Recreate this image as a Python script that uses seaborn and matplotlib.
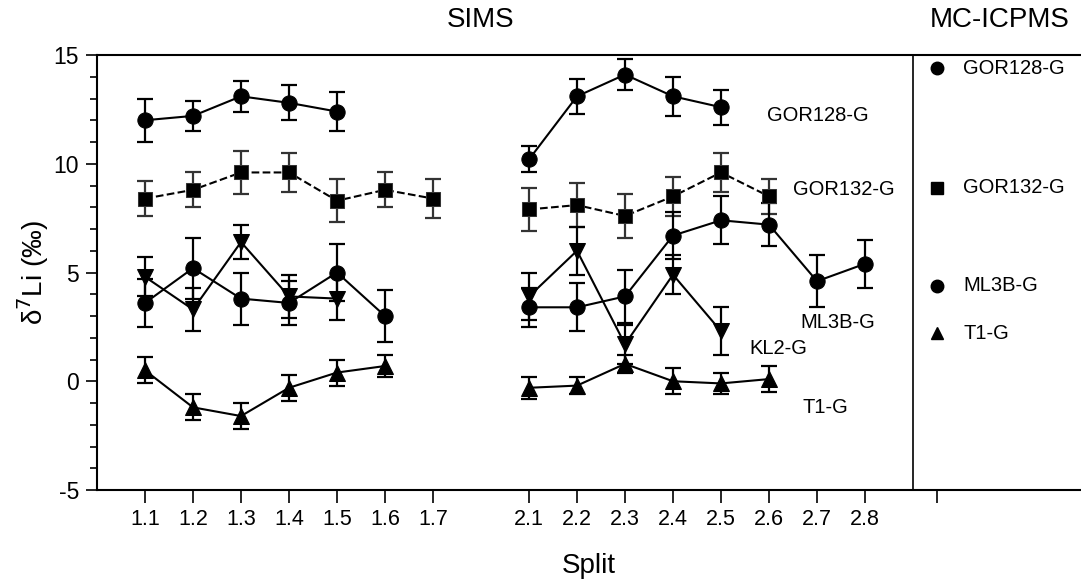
import numpy as np
import pandas as pd
import seaborn as sns
import matplotlib.pyplot as plt
import matplotlib.transforms as mtransforms

# split labels for the two SIMS sessions
splits1 = ['1.1', '1.2', '1.3', '1.4', '1.5', '1.6', '1.7']
splits2 = ['2.1', '2.2', '2.3', '2.4', '2.5', '2.6', '2.7', '2.8']

# session 1 values (d7Li, permil) and 2sd
gor128_1 = [12.0, 12.2, 13.1, 12.8, 12.4]
gor128_1_err = [1.0, 0.7, 0.7, 0.8, 0.9]
gor132_1 = [8.4, 8.8, 9.6, 9.6, 8.3, 8.8, 8.4]
gor132_1_err = [0.8, 0.8, 1.0, 0.9, 1.0, 0.8, 0.9]
ml3b_1 = [3.6, 5.2, 3.8, 3.6, 5.0, 3.0]
ml3b_1_err = [1.1, 1.4, 1.2, 1.0, 1.3, 1.2]
kl2_1 = [4.8, 3.3, 6.4, 3.9, 3.8]
kl2_1_err = [0.9, 1.0, 0.8, 1.0, 1.0]
t1_1 = [0.5, -1.2, -1.6, -0.3, 0.4, 0.7]
t1_1_err = [0.6, 0.6, 0.6, 0.6, 0.6, 0.5]

# session 2
gor128_2 = [10.2, 13.1, 14.1, 13.1, 12.6]
gor128_2_err = [0.6, 0.8, 0.7, 0.9, 0.8]
gor132_2 = [7.9, 8.1, 7.6, 8.5, 9.6, 8.5]
gor132_2_err = [1.0, 1.0, 1.0, 0.9, 0.9, 0.8]
ml3b_2 = [3.4, 3.4, 3.9, 6.7, 7.4, 7.2, 4.6, 5.4]
ml3b_2_err = [0.9, 1.1, 1.2, 1.1, 1.1, 1.0, 1.2, 1.1]
kl2_2 = [3.9, 6.0, 1.7, 4.9, 2.3]
kl2_2_err = [1.1, 1.1, 0.9, 0.9, 1.1]
t1_2 = [-0.3, -0.2, 0.8, 0.0, -0.1, 0.1]
t1_2_err = [0.5, 0.4, 0.4, 0.6, 0.5, 0.6]

# MC-ICPMS reference values
mc_samples = ['GOR128-G', 'GOR132-G', 'ML3B-G', 'T1-G']
mc_values = [14.4, 8.9, 4.4, 2.2]

sns.set_style('ticks')
plt.rcParams['font.family'] = ['Liberation Sans', 'DejaVu Sans']
plt.rcParams['text.color'] = 'black'
plt.rcParams['axes.labelcolor'] = 'black'
plt.rcParams['xtick.color'] = 'black'
plt.rcParams['ytick.color'] = 'black'
plt.rcParams['axes.edgecolor'] = 'black'

pos1 = {s: i for i, s in enumerate(splits1)}
pos2 = {s: 8 + i for i, s in enumerate(splits2)}

rows = []
def add(sample, session, vals, errs, positions, labels):
    for lab, v, e in zip(labels, vals, errs):
        rows.append(dict(sample=sample, session=session, split=lab,
                         x=positions[lab], y=v, err=e))

add('GOR128-G', 1, gor128_1, gor128_1_err, pos1, splits1)
add('GOR132-G', 1, gor132_1, gor132_1_err, pos1, splits1)
add('ML3B-G', 1, ml3b_1, ml3b_1_err, pos1, splits1)
add('KL2-G', 1, kl2_1, kl2_1_err, pos1, splits1)
add('T1-G', 1, t1_1, t1_1_err, pos1, splits1)
add('GOR128-G', 2, gor128_2, gor128_2_err, pos2, splits2)
add('GOR132-G', 2, gor132_2, gor132_2_err, pos2, splits2)
add('ML3B-G', 2, ml3b_2, ml3b_2_err, pos2, splits2)
add('KL2-G', 2, kl2_2, kl2_2_err, pos2, splits2)
add('T1-G', 2, t1_2, t1_2_err, pos2, splits2)
df = pd.DataFrame(rows)

markers = {'GOR128-G': 'o', 'GOR132-G': 's', 'ML3B-G': 'o', 'KL2-G': 'v', 'T1-G': '^'}
msize = {'GOR128-G': 11, 'GOR132-G': 10, 'ML3B-G': 11, 'KL2-G': 11, 'T1-G': 11}

fig = plt.figure(figsize=(10.81, 5.84), dpi=100)
ax = fig.add_axes([97 / 1081, 1 - 490 / 584, 1 - 97 / 1081, (490 - 55) / 584])

for (sample, session), d in df.groupby(['sample', 'session'], sort=False):
    dashed = sample == 'GOR132-G'
    ecol = '#333333' if dashed else 'black'
    ax.errorbar(d['x'], d['y'], yerr=d['err'], fmt='none', ecolor=ecol,
                elinewidth=1.6, capsize=6, capthick=1.6, zorder=2)
    sns.lineplot(data=d, x='x', y='y', ax=ax, color='black',
                 linestyle='--' if dashed else '-', linewidth=1.5,
                 marker=markers[sample], markersize=msize[sample],
                 markerfacecolor='black', markeredgecolor='#333333' if dashed else 'black',
                 estimator=None, sort=False, zorder=3)

# MC-ICPMS column
mc_x = 16.5
for s, v in zip(mc_samples, mc_values):
    ax.plot(mc_x, v, marker=markers[s], color='black', markersize=9, linestyle='none')
    ax.text(mc_x + 0.55, v, s, fontsize=14.5, va='center', ha='left')

ax.axvline(16, color='black', linewidth=1.2)

# in-plot sample labels
ax.text(12.95, 12.2, 'GOR128-G', fontsize=14.5, va='center')
ax.text(13.5, 8.8, 'GOR132-G', fontsize=14.5, va='center')
ax.text(13.65, 2.7, 'ML3B-G', fontsize=14.5, va='center')
ax.text(12.6, 1.5, 'KL2-G', fontsize=14.5, va='center')
ax.text(13.7, -1.2, 'T1-G', fontsize=14.5, va='center')

trans = mtransforms.blended_transform_factory(ax.transData, fig.transFigure)
ax.text(7, 1 - 20 / 584, 'SIMS', transform=trans, fontsize=20, ha='center', va='center')
ax.text(17.8, 1 - 20 / 584, 'MC-ICPMS', transform=trans, fontsize=20, ha='center', va='center')

ax.set_xlim(-1, 19.5)
ax.set_ylim(-5, 15)
ax.set_xticks(list(pos1.values()) + list(pos2.values()) + [mc_x])
ax.set_xticklabels(splits1 + splits2 + [''], fontsize=15.5)
ax.set_yticks([-5, 0, 5, 10, 15])
ax.set_yticklabels(['-5', '0', '5', '10', '15'], fontsize=16.5)
ax.set_yticks(np.arange(-5, 16, 1), minor=True)
ax.tick_params(axis='x', length=9, width=1.2, pad=5)
ax.tick_params(axis='y', which='major', length=8, width=1.2, pad=5)
ax.tick_params(axis='y', which='minor', length=5, width=1.2)

ax.set_xlabel('Split', fontsize=20, labelpad=16)
ax.set_ylabel('δ$^{7}$Li (‰)', fontsize=20, labelpad=2)
ax.spines['right'].set_visible(False)
for sp in ['left', 'top', 'bottom']:
    ax.spines[sp].set_linewidth(1.5)
if ax.get_legend():
    ax.get_legend().remove()

fig.savefig('out.png', dpi=100)
